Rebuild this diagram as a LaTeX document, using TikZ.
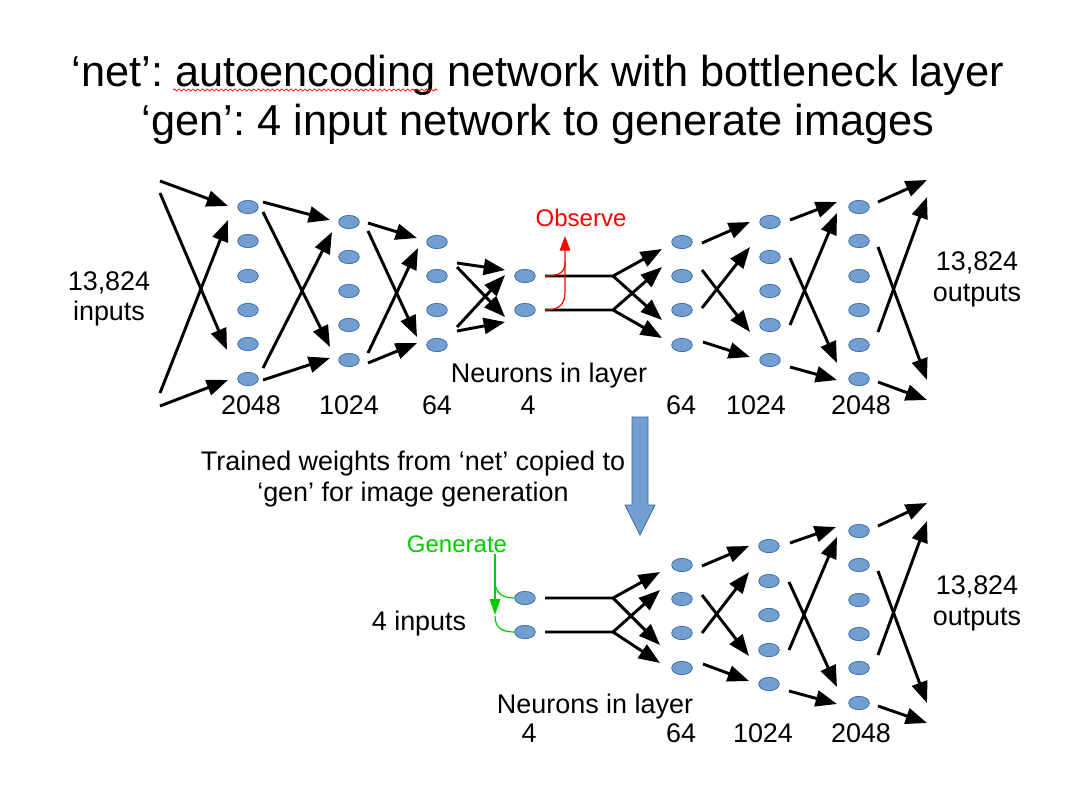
\documentclass[tikz,border=0pt]{standalone}
\usepackage{fontspec}
\setmainfont{Liberation Sans}
\usetikzlibrary{arrows.meta,calc,shapes.geometric,decorations.pathmorphing}
\frenchspacing

\begin{document}
\begin{tikzpicture}[x=0.75pt,y=0.75pt,yscale=-1,xscale=1,
  neuron/.style={ellipse, draw={rgb, 255:red, 52; green, 101; blue, 164}, fill={rgb, 255:red, 114; green, 159; blue, 207}, line width=0.5pt, inner sep=0pt, minimum width=15.5pt, minimum height=10pt},
  wire/.style={line width=2.2pt, line join=miter, -{Triangle[length=16pt,width=12pt]}},
  obsline/.style={draw={rgb, 255:red, 255; green, 0; blue, 0}, line width=0.9pt},
  genline/.style={draw={rgb, 255:red, 0; green, 204; blue, 0}, line width=0.9pt},
  lbl/.style={inner sep=0pt, align=center, font=\fontsize{20.2}{23}\selectfont},
  smalllbl/.style={inner sep=0pt, font=\fontsize{18}{21.6}\selectfont}]

\path [use as bounding box, fill=white] (0,0) rectangle (1075,804) ;

% titles
\draw (538,55) node [anchor=north, inner sep=0pt, align=center, font=\fontsize{32.5}{36.75}\selectfont] (title) {‘net’: autoencoding network with bottleneck layer\\‘gen’: 4 input network to generate images};
\draw [color={rgb, 255:red, 255; green, 0; blue, 0}, line width=0.5pt, decorate, decoration={snake, amplitude=0.8pt, segment length=3.5pt}] (173,90) -- (438,90) ;

% net: neurons
\draw (248,207) node [neuron] (n1-1) {} ;
\draw (248,241) node [neuron] (n1-2) {} ;
\draw (248,276) node [neuron] (n1-3) {} ;
\draw (248,310) node [neuron] (n1-4) {} ;
\draw (248,344) node [neuron] (n1-5) {} ;
\draw (248,379) node [neuron] (n1-6) {} ;
\draw (349,222) node [neuron] (n2-1) {} ;
\draw (349,257) node [neuron] (n2-2) {} ;
\draw (349,291) node [neuron] (n2-3) {} ;
\draw (349,325) node [neuron] (n2-4) {} ;
\draw (349,360) node [neuron] (n2-5) {} ;
\draw (437,242) node [neuron] (n3-1) {} ;
\draw (437,276) node [neuron] (n3-2) {} ;
\draw (437,310) node [neuron] (n3-3) {} ;
\draw (437,345) node [neuron] (n3-4) {} ;
\draw (525,276) node [neuron] (n4-1) {} ;
\draw (525,310) node [neuron] (n4-2) {} ;
\draw (682,242) node [neuron] (n5-1) {} ;
\draw (682,276) node [neuron] (n5-2) {} ;
\draw (682,310) node [neuron] (n5-3) {} ;
\draw (682,345) node [neuron] (n5-4) {} ;
\draw (770,222) node [neuron] (n6-1) {} ;
\draw (770,257) node [neuron] (n6-2) {} ;
\draw (770,291) node [neuron] (n6-3) {} ;
\draw (770,325) node [neuron] (n6-4) {} ;
\draw (770,360) node [neuron] (n6-5) {} ;
\draw (859,207) node [neuron] (n7-1) {} ;
\draw (859,241) node [neuron] (n7-2) {} ;
\draw (859,276) node [neuron] (n7-3) {} ;
\draw (859,310) node [neuron] (n7-4) {} ;
\draw (859,345) node [neuron] (n7-5) {} ;
\draw (859,379) node [neuron] (n7-6) {} ;

\coordinate (inA) at (160,181) ;
\coordinate (inB) at (160,193) ;
\coordinate (inC) at (160,393) ;
\coordinate (inD) at (160,406) ;
\coordinate (outA) at (927,180) ;
\coordinate (outB) at (927,197) ;
\coordinate (outC) at (927,380) ;
\coordinate (outD) at (927,400) ;
\coordinate (splitA) at ($(n4-1)+(88,0)$) ;
\coordinate (splitB) at ($(n4-2)+(88,0)$) ;

% net: weights
\draw [wire] (inA) -- ($(n1-1)+(-20,-1)$) ;
\draw [wire] (inB) -- ($(n1-5)+(-21,6)$) ;
\draw [wire] (inC) -- ($(n1-1)+(-20,13)$) ;
\draw [wire] (inD) -- ($(n1-6)+(-20,1)$) ;

\draw [wire] ($(n1-1)+(15,-5)$) -- ($(n2-1)+(-19,-2)$) ;
\draw [wire] ($(n1-1)+(15,5)$) -- ($(n2-5)+(-19,-13)$) ;
\draw [wire] ($(n1-6)+(15,-11)$) -- ($(n2-1)+(-17,10)$) ;
\draw [wire] ($(n1-6)+(15,1)$) -- ($(n2-5)+(-19,-2)$) ;

\draw [wire] ($(n2-1)+(19,1)$) -- ($(n3-1)+(-20,-4)$) ;
\draw [wire] ($(n2-1)+(19,9)$) -- ($(n3-4)+(-20,-8)$) ;
\draw [wire] ($(n2-5)+(19,-7)$) -- ($(n3-1)+(-19,6)$) ;
\draw [wire] ($(n2-5)+(19,3)$) -- ($(n3-4)+(-20,-2)$) ;

\draw [wire] ($(n3-2)+(20,-13)$) -- ($(n4-1)+(-20,-6)$) ;
\draw [wire] ($(n3-2)+(20,-9)$) -- ($(n4-2)+(-20,7)$) ;
\draw [wire] ($(n3-3)+(20,17)$) -- ($(n4-1)+(-20,-1)$) ;
\draw [wire] ($(n3-3)+(20,21)$) -- ($(n4-2)+(-20,12)$) ;

\draw [wire] ($(n4-1)+(20,0)$) -- (splitA) -- ($(n5-1)+(-20,7)$) ;
\draw [wire] (splitA) -- ($(n5-3)+(-20,10)$) ;
\draw [wire] ($(n4-2)+(20,0)$) -- (splitB) -- ($(n5-2)+(-20,-9)$) ;
\draw [wire] (splitB) -- ($(n5-4)+(-20,-7)$) ;

\draw [wire] ($(n5-1)+(20,1)$) -- ($(n6-1)+(-20,0)$) ;
\draw [wire] ($(n5-2)+(20,-6)$) -- ($(n6-4)+(-20,7)$) ;
\draw [wire] ($(n5-3)+(20,-2)$) -- ($(n6-2)+(-20,-10)$) ;
\draw [wire] ($(n5-4)+(21,-3)$) -- ($(n6-5)+(-20,-3)$) ;

\draw [wire] ($(n6-1)+(20,-2)$) -- ($(n7-1)+(-22,-5)$) ;
\draw [wire] ($(n6-2)+(20,1)$) -- ($(n7-6)+(-22,-16)$) ;
\draw [wire] ($(n6-4)+(20,0)$) -- ($(n7-1)+(-22,6)$) ;
\draw [wire] ($(n6-5)+(20,7)$) -- ($(n7-6)+(-22,1)$) ;

\draw [wire] ($(n7-1)+(19,-5)$) -- (outA) ;
\draw [wire] ($(n7-2)+(19,6)$) -- (outC) ;
\draw [wire] ($(n7-5)+(19,-13)$) -- (outB) ;
\draw [wire] ($(n7-6)+(19,3)$) -- (outD) ;

% observe
\coordinate (obsTip) at (565,236) ;
\draw [obsline] ($(n4-1)+(20,0)$) .. controls +(15,0) and +(0,10) .. (565,262) ;
\draw [obsline, -{Triangle[length=11pt,width=8pt]}] ($(n4-2)+(20,0)$) .. controls +(16,0) and +(0,12) .. (565,291) -- (obsTip) ;
\draw (581,226) node [smalllbl, anchor=base, text={rgb, 255:red, 255; green, 0; blue, 0}] (obs) {Observe};

% net: labels
\draw (109,271) node [lbl, anchor=north] (inlbl) {13,824\\inputs};
\draw (977,251.5) node [lbl, anchor=north] (outlbl) {13,824\\outputs};
\draw (549,382) node [lbl, anchor=base] (layerlbl) {Neurons in layer};
\draw (251,414) node [lbl, anchor=base] (c1) {2048};
\draw (349,414) node [lbl, anchor=base] (c2) {1024};
\draw (437,414) node [lbl, anchor=base] (c3) {64};
\draw (528,414) node [lbl, anchor=base] (c4) {4};
\draw (681,414) node [lbl, anchor=base] (c5) {64};
\draw (756,414) node [lbl, anchor=base] (c6) {1024};
\draw (861,414) node [lbl, anchor=base] (c7) {2048};

% copy arrow
\draw [draw={rgb, 255:red, 52; green, 101; blue, 164}, fill={rgb, 255:red, 114; green, 159; blue, 207}, line width=0.6pt] (632,417) -- (648,417) -- (648,505) -- (655,505) -- (640,535) -- (625,505) -- (632,505) -- cycle ;
\draw (413,451) node [lbl, anchor=north] (copylbl) {Trained weights from ‘net’ copied to\\‘gen’ for image generation};

% gen: neurons
\draw (525,598) node [neuron] (g4-1) {} ;
\draw (525,632) node [neuron] (g4-2) {} ;
\draw (682,565) node [neuron] (g5-1) {} ;
\draw (682,599) node [neuron] (g5-2) {} ;
\draw (682,633) node [neuron] (g5-3) {} ;
\draw (682,668) node [neuron] (g5-4) {} ;
\draw (769,546) node [neuron] (g6-1) {} ;
\draw (769,581) node [neuron] (g6-2) {} ;
\draw (769,615) node [neuron] (g6-3) {} ;
\draw (769,650) node [neuron] (g6-4) {} ;
\draw (769,684) node [neuron] (g6-5) {} ;
\draw (859,531) node [neuron] (g7-1) {} ;
\draw (859,565) node [neuron] (g7-2) {} ;
\draw (859,600) node [neuron] (g7-3) {} ;
\draw (859,634) node [neuron] (g7-4) {} ;
\draw (859,668) node [neuron] (g7-5) {} ;
\draw (859,703) node [neuron] (g7-6) {} ;

\coordinate (goutA) at (927,503) ;
\coordinate (goutB) at (927,521) ;
\coordinate (goutC) at (927,703) ;
\coordinate (goutD) at (927,723) ;
\coordinate (splitC) at ($(g4-1)+(88,0)$) ;
\coordinate (splitD) at ($(g4-2)+(88,0)$) ;

% gen: weights
\draw [wire] ($(g4-1)+(20,0)$) -- (splitC) -- ($(g5-1)+(-22,7)$) ;
\draw [wire] (splitC) -- ($(g5-3)+(-22,12)$) ;
\draw [wire] ($(g4-2)+(20,0)$) -- (splitD) -- ($(g5-2)+(-22,-9)$) ;
\draw [wire] (splitD) -- ($(g5-4)+(-22,-5)$) ;

\draw [wire] ($(g5-1)+(20,1)$) -- ($(g6-1)+(-20,0)$) ;
\draw [wire] ($(g5-2)+(20,-4)$) -- ($(g6-4)+(-20,6)$) ;
\draw [wire] ($(g5-3)+(20,0)$) -- ($(g6-2)+(-20,-9)$) ;
\draw [wire] ($(g5-4)+(21,-4)$) -- ($(g6-5)+(-20,-3)$) ;

\draw [wire] ($(g6-1)+(21,-3)$) -- ($(g7-1)+(-23,-4)$) ;
\draw [wire] ($(g6-2)+(20,1)$) -- ($(g7-6)+(-22,-16)$) ;
\draw [wire] ($(g6-4)+(20,0)$) -- ($(g7-1)+(-22,6)$) ;
\draw [wire] ($(g6-5)+(20,7)$) -- ($(g7-6)+(-22,1)$) ;

\draw [wire] ($(g7-1)+(19,-5)$) -- (goutA) ;
\draw [wire] ($(g7-2)+(19,6)$) -- (goutC) ;
\draw [wire] ($(g7-5)+(19,-13)$) -- (goutB) ;
\draw [wire] ($(g7-6)+(19,3)$) -- (goutD) ;

% generate
\coordinate (genTop) at (495,554) ;
\coordinate (genTip) at (495,615) ;
\draw [genline, -{Triangle[length=12pt,width=8pt]}] (genTop) -- (genTip) ;
\draw [genline] ($(genTop)+(0,27)$) .. controls +(0,12) and +(-12,0) .. (g4-1.west) ;
\draw [genline] ($(genTip)+(0,1)$) .. controls +(0,12) and +(-12,0) .. (g4-2.west) ;
\draw (457,552) node [smalllbl, anchor=base, text={rgb, 255:red, 0; green, 204; blue, 0}] (genlbl) {Generate};

% gen: labels
\draw (419,630) node [lbl, anchor=base] (ginlbl) {4 inputs};
\draw (977,575.5) node [lbl, anchor=north] (goutlbl) {13,824\\outputs};
\draw (595,713) node [lbl, anchor=base] (glayerlbl) {Neurons in layer};
\draw (529,742) node [lbl, anchor=base] (d4) {4};
\draw (681,742) node [lbl, anchor=base] (d5) {64};
\draw (763,742) node [lbl, anchor=base] (d6) {1024};
\draw (861,742) node [lbl, anchor=base] (d7) {2048};

\end{tikzpicture}
\end{document}
